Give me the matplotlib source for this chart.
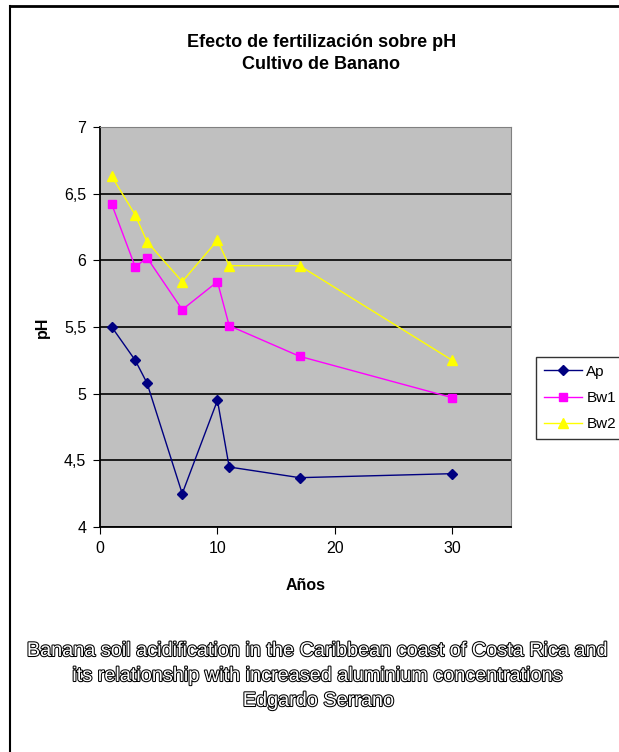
import matplotlib.pyplot as plt
import matplotlib.patheffects as pe
from matplotlib.lines import Line2D

plt.rcParams['font.family'] = ['Liberation Sans', 'DejaVu Sans']

# years and pH per horizon
anos = [1, 3, 4, 7, 10, 11, 17, 30]
ap = [5.50, 5.25, 5.08, 4.25, 4.95, 4.45, 4.37, 4.40]
bw1 = [6.42, 5.95, 6.02, 5.63, 5.84, 5.51, 5.28, 4.97]
bw2 = [6.63, 6.34, 6.14, 5.84, 6.15, 5.96, 5.96, 5.25]

fig = plt.figure(figsize=(6.19, 7.52), dpi=100)
ax = fig.add_axes([0.1616, 0.2992, 0.6639, 0.5319])
ax.set_facecolor('#c0c0c0')

ax.plot(anos, ap, color='#000080', marker='D', markersize=5.5, lw=1, label='Ap')
ax.plot(anos, bw1, color='#ff00ff', marker='s', markersize=6, lw=1, label='Bw1')
ax.plot(anos, bw2, color='#ffff00', marker='^', markersize=7.5, lw=1, label='Bw2')

ax.set_xlim(0, 35)
ax.set_ylim(4, 7)
ax.set_xticks([0, 10, 20, 30])
ax.set_yticks([4, 4.5, 5, 5.5, 6, 6.5, 7])
ax.set_yticklabels(['4', '4,5', '5', '5,5', '6', '6,5', '7'])
ax.yaxis.grid(True, color='black', lw=1.2)
ax.set_axisbelow(True)
ax.tick_params(direction='out', length=5, labelsize=11.5, pad=5)
for s in ['top', 'right']:
    ax.spines[s].set_color('#808080')
ax.spines['left'].set_linewidth(1.3)
ax.spines['bottom'].set_linewidth(1.3)

ax.set_xlabel('Años', fontsize=11.5, fontweight='bold', labelpad=16)
ax.set_ylabel('pH', fontsize=11.5, fontweight='bold', labelpad=10)

fig.text(0.519, 1 - 47 / 752, 'Efecto de fertilización sobre pH', ha='center',
         va='baseline', fontsize=13, fontweight='bold')
fig.text(0.519, 1 - 69 / 752, 'Cultivo de Banano', ha='center', va='baseline',
         fontsize=13, fontweight='bold')

leg = fig.legend(loc='upper left', bbox_to_anchor=(536 / 619, 1 - 357 / 752), fontsize=11,
                 frameon=True, fancybox=False, edgecolor='black', handlelength=2.5,
                 borderpad=0.5, labelspacing=0.8, handletextpad=0.3, borderaxespad=0)
leg.get_frame().set_linewidth(1)

footer = ['Banana soil acidification in the Caribbean coast of Costa Rica and',
          'its relationship with increased aluminium concentrations',
          'Edgardo Serrano']
for i, line in enumerate(footer):
    fig.text(0.515, 1 - (656 + 25 * i) / 752, line, ha='center', va='baseline',
             fontsize=14.3, color='white',
             path_effects=[pe.withStroke(linewidth=1.5, foreground='black')])

# outer frame (left and top edges visible)
fig.add_artist(Line2D([0.016, 0.016], [0, 0.992], color='black', lw=1.5))
fig.add_artist(Line2D([0.016, 1], [0.992, 0.992], color='black', lw=2))

fig.savefig('out.png', dpi=100)
